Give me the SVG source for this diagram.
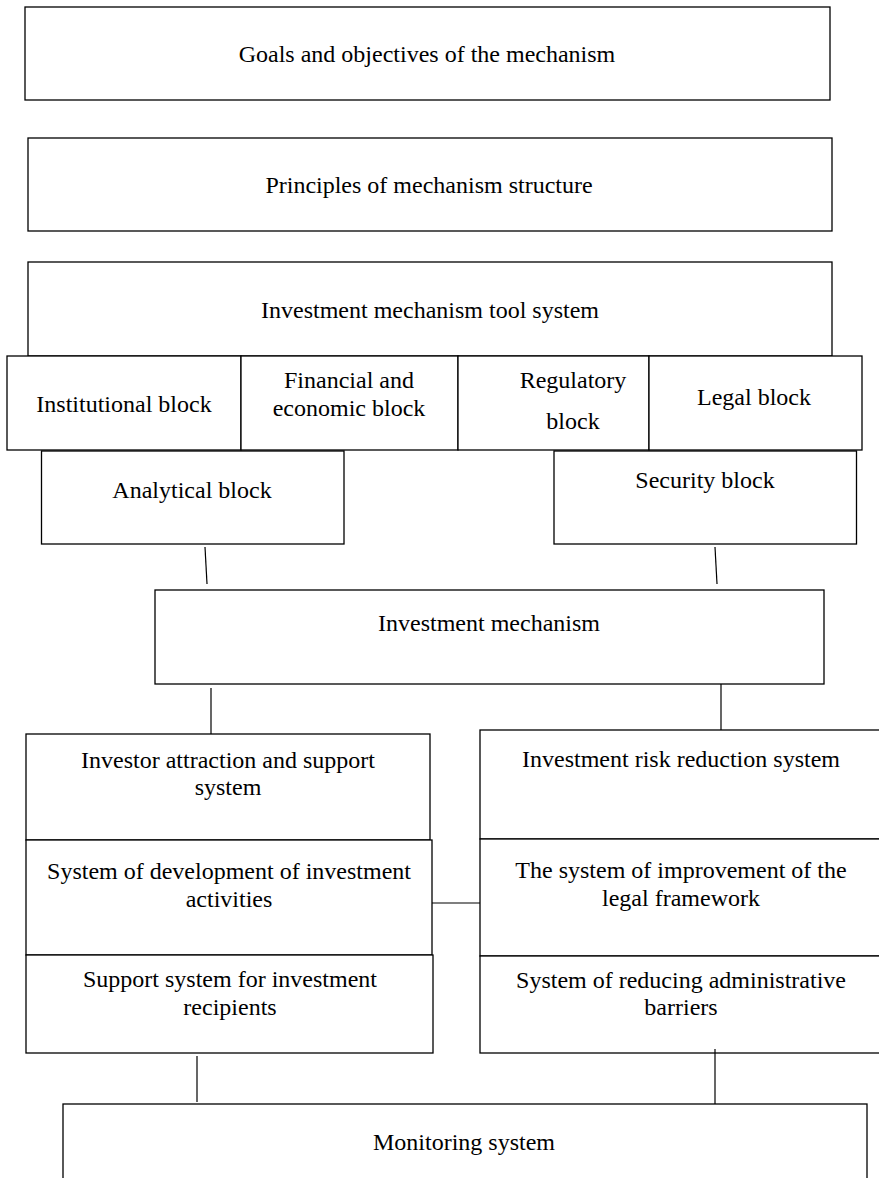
<svg xmlns="http://www.w3.org/2000/svg" width="879" height="1178" viewBox="0 0 879 1178">
<style>
rect{fill:#fff;stroke:#000;stroke-width:1.3}
text{font-family:"Liberation Serif","Times New Roman",serif;font-size:24px;fill:#000;text-anchor:middle}
.c line{stroke:#000;stroke-width:1.2}
</style>
<rect width="879" height="1178" style="stroke:none"/>
<g id="goals"><rect x="25" y="7" width="805" height="93"/><text x="427" y="62">Goals and objectives of the mechanism</text></g>
<g id="principles"><rect x="28" y="138" width="804" height="93"/><text x="429" y="193">Principles of mechanism structure</text></g>
<g id="toolsystem"><rect x="28" y="262" width="804" height="94"/><text x="430" y="318">Investment mechanism tool system</text></g>
<g id="institutional"><rect x="7" y="356" width="234" height="94"/><text x="124" y="412">Institutional block</text></g>
<g id="financial"><rect x="241" y="356" width="217" height="94"/><text x="349" y="388">Financial and</text><text x="349" y="416">economic block</text></g>
<g id="regulatory"><rect x="458" y="356" width="191" height="94"/><text x="573" y="388">Regulatory</text><text x="573" y="429">block</text></g>
<g id="legal"><rect x="649" y="356" width="213" height="94"/><text x="754" y="405">Legal block</text></g>
<g id="analytical"><rect x="41.5" y="451" width="302.5" height="93"/><text x="192" y="498">Analytical block</text></g>
<g id="security"><rect x="554" y="451" width="302.5" height="93"/><text x="705" y="488">Security block</text></g>
<g id="mechanism"><rect x="155" y="590" width="669" height="94"/><text x="489" y="631">Investment mechanism</text></g>
<g id="investor"><rect x="26" y="734" width="404" height="106"/><text x="228" y="768">Investor attraction and support</text><text x="228" y="795">system</text></g>
<g id="development"><rect x="26" y="840" width="406" height="115"/><text x="229" y="879">System of development of investment</text><text x="229" y="907">activities</text></g>
<g id="recipients"><rect x="26" y="955" width="407" height="98"/><text x="230" y="987">Support system for investment</text><text x="230" y="1015">recipients</text></g>
<g id="risk"><rect x="480" y="730" width="402" height="109"/><text x="681" y="767">Investment risk reduction system</text></g>
<g id="legalframework"><rect x="480" y="839" width="402" height="117"/><text x="681" y="878">The system of improvement of the</text><text x="681" y="906">legal framework</text></g>
<g id="barriers"><rect x="480" y="956" width="402" height="97"/><text x="681" y="988">System of reducing administrative</text><text x="681" y="1015">barriers</text></g>
<g id="monitoring"><rect x="63" y="1104" width="804" height="90"/><text x="464" y="1150">Monitoring system</text></g>
<g class="c" id="connectors">
<line x1="205" y1="547" x2="207" y2="584"/>
<line x1="715" y1="547" x2="717" y2="584"/>
<line x1="211" y1="688" x2="211" y2="734"/>
<line x1="721" y1="684" x2="721" y2="730"/>
<line x1="432" y1="903" x2="480" y2="903"/>
<line x1="197" y1="1056" x2="197" y2="1102"/>
<line x1="715" y1="1049" x2="715" y2="1104"/>
</g>
</svg>
